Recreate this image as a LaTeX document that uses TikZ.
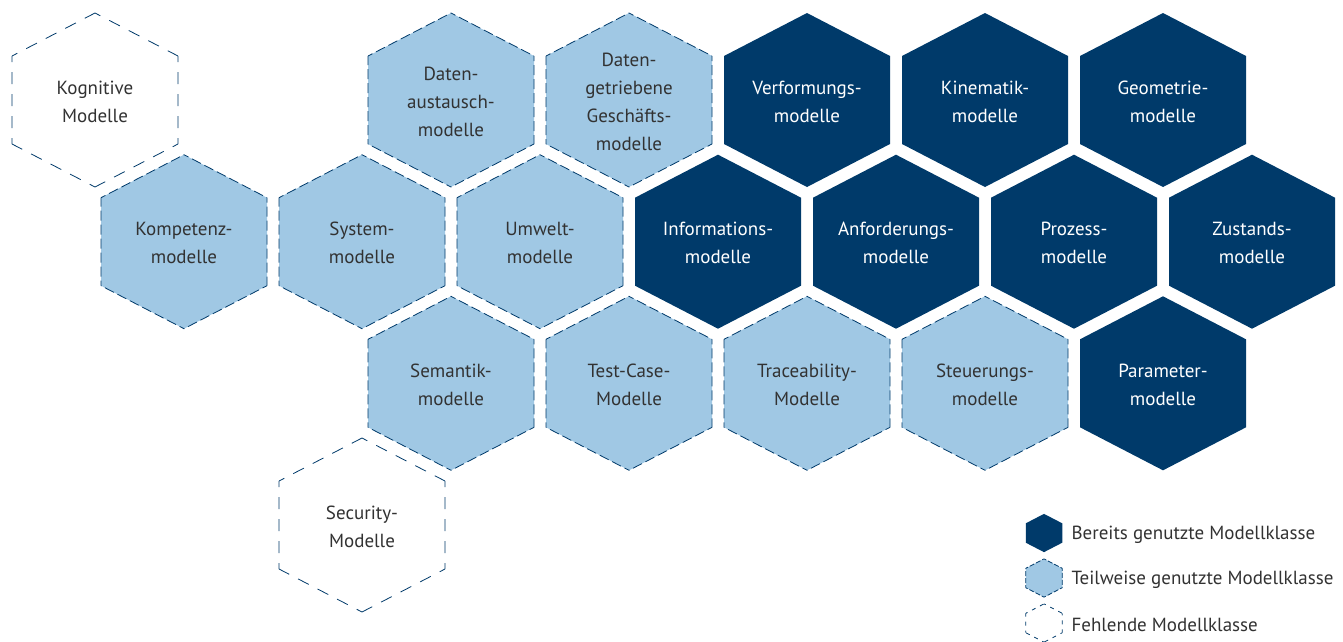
\documentclass[tikz,border=0pt]{standalone}
\usepackage{fontspec}
\setmainfont{PT Sans}
\usetikzlibrary{positioning}

\definecolor{darkblue}{RGB}{0,58,106}
\definecolor{lightblue}{RGB}{160,200,228}
\definecolor{textgray}{RGB}{50,50,50}

\tikzset{
    % hexagon, pointy top; #1 fill, #2 outline (each edge its own subpath)
    pics/hexa/.style 2 args={code={
        \fill[#1] (0,-87) -- (83,-44) -- (83,44) -- (0,87) -- (-83,44) -- (-83,-44) -- cycle;
        \draw[#2] (0,-87) -- (83,-44) (83,-44) -- (83,44) (83,44) -- (0,87)
                  (0,87) -- (-83,44) (-83,44) -- (-83,-44) (-83,-44) -- (0,-87);
    }},
    partline/.style={draw=darkblue, line width=0.8pt, dash pattern=on 10pt off 4pt, dash phase=5pt},
    missline/.style={draw=darkblue, line width=0.8pt, dash pattern=on 12pt off 10pt, dash phase=6pt},
    lbl/.style={align=center, text=textgray, font=\fontsize{19}{28}\selectfont, yshift=-1.5pt},
    lblw/.style={lbl, text=white},
}

\begin{document}
\begin{tikzpicture}[x=1pt, y=-1pt]
    \useasboundingbox (0,0) rectangle (1343,641);

    % first row
    \pic at (95,100)   {hexa={white}{missline}};
    \pic at (451,100)  {hexa={lightblue}{partline}};
    \pic at (629,100)  {hexa={lightblue}{partline}};
    \pic at (807,100)  {hexa={darkblue}{draw=none}};
    \pic at (985,100)  {hexa={darkblue}{draw=none}};
    \pic at (1163,100) {hexa={darkblue}{draw=none}};
    \node[lbl]  (KOG) at (95,100)   {Kognitive\\Modelle};
    \node[lbl]  (DAU) at (451,100)  {Daten-\\austausch-\\modelle};
    \node[lbl]  (DGG) at (629,100)  {Daten-\\getriebene\\Geschäfts-\\modelle};
    \node[lblw] (VER) at (807,100)  {Verformungs-\\modelle};
    \node[lblw] (KIN) at (985,100)  {Kinematik-\\modelle};
    \node[lblw] (GEO) at (1163,100) {Geometrie-\\modelle};

    % second row
    \pic at (184,241.7)  {hexa={lightblue}{partline}};
    \pic at (362,241.7)  {hexa={lightblue}{partline}};
    \pic at (540,241.7)  {hexa={lightblue}{partline}};
    \pic at (718,241.7)  {hexa={darkblue}{draw=none}};
    \pic at (896,241.7)  {hexa={darkblue}{draw=none}};
    \pic at (1074,241.7) {hexa={darkblue}{draw=none}};
    \pic at (1252,241.7) {hexa={darkblue}{draw=none}};
    \node[lbl]  (KOM) at (184,241.7)  {Kompetenz-\\modelle};
    \node[lbl]  (SYS) at (362,241.7)  {System-\\modelle};
    \node[lbl]  (UMW) at (540,241.7)  {Umwelt-\\modelle};
    \node[lblw] (INF) at (718,241.7)  {Informations-\\modelle};
    \node[lblw] (ANF) at (896,241.7)  {Anforderungs-\\modelle};
    \node[lblw] (PRO) at (1074,241.7) {Prozess-\\modelle};
    \node[lblw] (ZUS) at (1252,241.7) {Zustands-\\modelle};

    % third row
    \pic at (451,383.3)  {hexa={lightblue}{partline}};
    \pic at (629,383.3)  {hexa={lightblue}{partline}};
    \pic at (807,383.3)  {hexa={lightblue}{partline}};
    \pic at (985,383.3)  {hexa={lightblue}{partline}};
    \pic at (1163,383.3) {hexa={darkblue}{draw=none}};
    \node[lbl]  (SEM) at (451,383.3)  {Semantik-\\modelle};
    \node[lbl]  (TCM) at (629,383.3)  {Test-Case-\\Modelle};
    \node[lbl]  (TRA) at (807,383.3)  {Traceability-\\Modelle};
    \node[lbl]  (STE) at (985,383.3)  {Steuerungs-\\modelle};
    \node[lblw] (PAR) at (1163,383.3) {Parameter-\\modelle};

    % fourth row
    \pic at (362,525) {hexa={white}{missline}};
    \node[lbl] (SEC) at (362,525) {Security-\\Modelle};

    % legend
    \pic[scale=0.22] at (1044,533) {hexa={darkblue}{draw=none}};
    \pic[scale=0.22] at (1044,578) {hexa={lightblue}{partline, dash pattern=on 5pt off 2pt, dash phase=2.5pt}};
    \pic[scale=0.22] at (1044,623) {hexa={white}{missline, dash pattern=on 4pt off 5pt, dash phase=2pt}};
    \node[lbl, anchor=west] (L1) at (1068,533) {Bereits genutzte Modellklasse};
    \node[lbl, anchor=west] (L2) at (1068,578) {Teilweise genutzte Modellklasse};
    \node[lbl, anchor=west] (L3) at (1068,623) {Fehlende Modellklasse};
\end{tikzpicture}
\end{document}
